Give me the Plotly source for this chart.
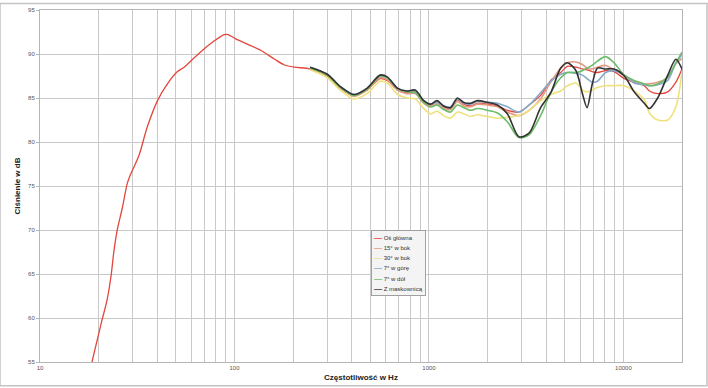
import plotly.graph_objects as go

# ---- data ----
freq_low = [18.5, 20.8, 22.1, 23.2, 23.9, 24.9, 26.5, 28.1, 29.2, 32.3, 35.6, 40.2, 45.2, 50.9,
            55.1, 60.9, 70, 78.8, 88.8, 92.5, 104, 117, 137, 161, 181, 204]
main_low = [55.0, 59.7, 62.0, 64.8, 67.3, 69.9, 72.5, 75.3, 76.3, 78.5, 81.7, 84.7, 86.6, 88.0,
            88.5, 89.4, 90.6, 91.5, 92.2, 92.2, 91.6, 91.1, 90.4, 89.4, 88.75, 88.5]

freq_hf = [245, 300, 350, 410, 480, 560, 610, 690, 770, 850, 940, 1020, 1100, 1190, 1290, 1400,
           1510, 1640, 1770, 2000, 2250, 2530, 2900, 3270, 3750, 4230, 4760, 5150, 5700, 6150,
           6500, 6900, 7350, 8100, 8950, 10100, 11350, 12800, 13600, 15000, 16900, 18600, 20000]

os_glowna = [88.3, 87.5, 86.1, 85.3, 85.9, 87.2, 87.0, 85.9, 85.6, 85.7, 84.6, 84.2, 84.5, 84.0, 83.9, 84.8,
             84.3, 84.1, 84.4, 84.3, 84.1, 83.6, 83.4, 84.2, 85.3, 87.0, 87.9, 88.6, 88.5, 88.3,
             88.2, 88.0, 87.9, 88.1, 88.0, 87.2, 86.8, 86.4, 85.8, 85.5, 85.7, 86.8, 88.3]
bok15 = [88.4, 87.6, 86.2, 85.2, 85.9, 87.3, 87.1, 85.9, 85.5, 85.5, 84.4, 84.0, 84.3, 83.8, 83.7, 84.6,
         84.1, 84.0, 84.3, 84.2, 84.0, 83.4, 83.0, 83.6, 84.9, 86.8, 88.4, 89.0, 89.1, 88.8,
         88.4, 88.3, 88.5, 88.7, 88.2, 87.6, 86.9, 86.6, 86.6, 86.8, 87.3, 88.9, 89.5]
bok30 = [88.2, 87.3, 85.9, 84.9, 85.5, 86.9, 86.7, 85.4, 85.0, 84.9, 83.8, 83.2, 83.5, 83.0, 82.7, 83.4,
         83.2, 82.9, 83.1, 82.9, 82.7, 82.8, 83.0, 83.6, 84.7, 85.4, 85.8, 86.4, 86.7, 85.9,
         85.7, 85.9, 86.2, 86.4, 86.4, 86.4, 85.8, 84.8, 83.3, 82.5, 82.5, 84.0, 88.0]
gora7 = [88.5, 87.7, 86.3, 85.4, 86.1, 87.5, 87.3, 86.1, 85.8, 85.8, 84.7, 84.3, 84.5, 84.1, 84.0, 84.9,
         84.4, 84.3, 84.6, 84.5, 84.4, 84.0, 83.4, 84.2, 85.6, 86.9, 87.7, 87.9, 87.8, 87.6,
         87.2, 86.8, 86.9, 87.9, 88.1, 87.6, 86.7, 86.5, 86.4, 86.5, 87.0, 89.0, 89.9]
dol7 = [88.4, 87.6, 86.2, 85.3, 86.0, 87.5, 87.3, 86.1, 85.7, 85.6, 84.5, 84.0, 84.2, 83.7, 83.4, 84.2,
        83.9, 83.6, 83.8, 83.6, 83.3, 82.3, 80.5, 80.8, 83.0, 85.6, 87.3, 87.9, 87.9, 88.1,
        88.4, 88.7, 89.2, 89.7, 89.0, 87.6, 87.0, 86.6, 86.4, 86.6, 87.4, 89.0, 90.2]
maskownica = [88.5, 87.7, 86.3, 85.4, 86.1, 87.6, 87.4, 86.1, 85.8, 85.9, 84.7, 84.3, 84.7, 84.1, 83.9, 85.0,
              84.5, 84.4, 84.7, 84.5, 84.2, 83.2, 80.6, 81.0, 83.9, 85.6, 88.4, 89.0, 88.1, 85.5,
              83.9, 86.5, 88.4, 88.3, 88.3, 87.5, 85.7, 84.4, 83.8, 85.0, 87.6, 89.4, 88.3]

series_names = ["Oś główna", "15° w bok", "30° w bok", "7° w górę", "7° w dół", "Z maskownicą"]

x_tickvals = [10, 20, 30, 40, 50, 60, 70, 80, 90,
              100, 200, 300, 400, 500, 600, 700, 800, 900,
              1000, 2000, 3000, 4000, 5000, 6000, 7000, 8000, 9000,
              10000, 20000]
x_ticktext = ["10", "", "", "", "", "", "", "", "",
              "100", "", "", "", "", "", "", "", "",
              "1000", "", "", "", "", "", "", "", "",
              "10000", ""]
y_tickvals = [55, 60, 65, 70, 75, 80, 85, 90, 95]

# ---- figure ----
colors = ["#e2463c", "#e39a82", "#efe27c", "#86aacb", "#6cbd6a", "#333333"]
widths = [1.3, 1.6, 1.6, 1.6, 1.6, 1.6]
ys = [main_low + os_glowna, bok15, bok30, gora7, dol7, maskownica]
xs = [freq_low + freq_hf, freq_hf, freq_hf, freq_hf, freq_hf, freq_hf]

fig = go.Figure()
for name, x, y, c, w in zip(series_names, xs, ys, colors, widths):
    fig.add_trace(go.Scatter(x=x, y=y, mode="lines", name=name, showlegend=False,
                             line=dict(color=c, width=w, shape="spline", smoothing=0.8)))

# compact legend (text built from series names and colours)
legend_lines = [
    "<span style='color:%s;font-size:8px'><b>—</b></span><span style='font-size:6px'> %s</span>" % (c, n)
    for n, c in zip(series_names, colors)
]
fig.add_annotation(
    xref="paper", yref="paper", x=0.5156, y=0.3736, xanchor="left", yanchor="top",
    text="<br>".join(legend_lines), showarrow=False, align="left",
    font=dict(size=7.8, color="#333", family="Liberation Sans, Arial, sans-serif"),
    bgcolor="rgba(244,244,244,1)", bordercolor="#a0a0a0", borderwidth=1, borderpad=2,
)

grid = "#c9c9c9"
fig.update_layout(
    width=708, height=388,
    margin=dict(l=40, r=26, t=7, b=25),
    paper_bgcolor="white", plot_bgcolor="white",
    font=dict(family="Liberation Sans, Arial, sans-serif", color="#444", size=6),
    showlegend=False,
    xaxis=dict(type="log", range=[1, 4.30103], tickvals=x_tickvals, ticktext=x_ticktext,
               showgrid=True, gridcolor=grid, gridwidth=1, zeroline=False,
               showline=True, linecolor="#b5b5b5", mirror=True, ticks="",
               tickfont=dict(size=6, color="#555"),
               title=dict(text="<b>Częstotliwość w Hz</b>", font=dict(size=8, color="#222"), standoff=4)),
    yaxis=dict(range=[55, 95], tickvals=y_tickvals,
               showgrid=True, gridcolor=grid, gridwidth=1, zeroline=False,
               showline=True, linecolor="#b5b5b5", mirror=True,
               ticks="outside", ticklen=3, tickcolor="#b5b5b5",
               tickfont=dict(size=6, color="#555"),
               title=dict(text="<b>Ciśnienie w dB</b>", font=dict(size=8, color="#222"), standoff=6)),
)
# outer chart border
fig.add_shape(type="rect", xref="paper", yref="paper",
              x0=-40/642, x1=707/642 - 40/642, y0=-24/356, y1=1 + 6.5/356,
              line=dict(color="#c4c4c4", width=1.5), layer="below")

fig.write_html("out.html")
